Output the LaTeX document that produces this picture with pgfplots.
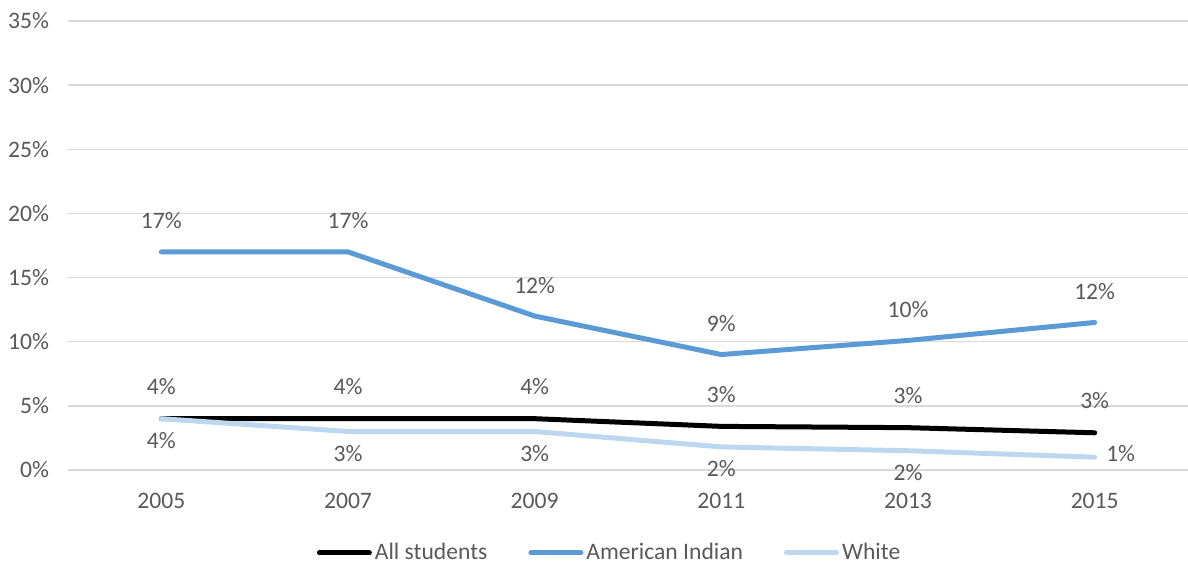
\documentclass[border=0pt]{standalone}
\usepackage{pgfplots}
\pgfplotsset{compat=1.18}
\usepackage{fontspec}
\setmainfont{Carlito}
\usetikzlibrary{calc}

\definecolor{txt}{HTML}{595959}
\definecolor{gridc}{HTML}{D9D9D9}
\definecolor{aiblue}{HTML}{5B9BD5}
\definecolor{whiteblue}{HTML}{BDD7EE}

\begin{document}
\begin{tikzpicture}
\begin{axis}[
    name=ax,
    scale only axis,
    width=560pt, height=224.5pt,
    xmin=2004, xmax=2016,
    ymin=0, ymax=35,
    xtick={2005,2007,2009,2011,2013,2015},
    ytick={0,5,...,35},
    xticklabel style={/pgf/number format/set thousands separator={}, yshift=-8pt},
    yticklabel={\pgfmathprintnumber{\tick}\%},
    yticklabel style={xshift=-6pt},
    /pgf/number format/assume math mode=true,
    ymajorgrids,
    grid style={gridc, line width=0.75pt},
    axis line style={draw=none},
    major tick length=0pt,
    tick label style={font=\fontsize{11.8}{14}\selectfont, text=txt},
    every node near coord/.append style={font=\fontsize{11.8}{14}\selectfont, text=txt, anchor=center},
    nodes near coords={\pgfmathprintnumber[fixed,precision=0]{\pgfplotspointmeta}\%},
    point meta=explicit,
    legend style={draw=none, fill=none, at={(0.484,0)}, anchor=center, yshift=-41.5pt,
        font=\fontsize{11.8}{14}\selectfont, text=txt,
        legend columns=3,
        /tikz/every even column/.append style={column sep=19pt},
        nodes={inner sep=1.5pt}},
    legend image code/.code={\draw[#1, line cap=round] (0pt,0pt) -- (25pt,0pt);},
]
% All students
\addplot[black, line width=2.5pt, line cap=round, line join=round, mark=none,
    every node near coord/.append style={yshift=16pt}]
table[meta=lab] {
x    y    lab
2005 4.0  4
2007 4.0  4
2009 4.0  4
2011 3.4  3
2013 3.3  3
2015 2.9  3
};
\addlegendentry{All students}
% American Indian
\addplot[aiblue, line width=2.5pt, line cap=round, line join=round, mark=none,
    every node near coord/.append style={yshift=15.5pt}]
table[meta=lab] {
x    y    lab
2005 17.0 17
2007 17.0 17
2009 12.0 12
2011 9.0  9
2013 10.1 10
2015 11.5 12
};
\addlegendentry{American Indian}
% White
\addplot[whiteblue, line width=2.5pt, line cap=round, line join=round, mark=none,
    nodes near coords={}]
table[meta=lab] {
x    y    lab
2005 4.0  4
2007 3.0  3
2009 3.0  3
2011 1.8  2
2013 1.5  2
2015 1.0  1
};
\addlegendentry{White}
\addplot[draw=none, forget plot, mark=none,
    every node near coord/.append style={yshift=-11pt}]
table[meta=lab] {
x    y    lab
2005 4.0  4
2007 3.0  3
2009 3.0  3
2011 1.8  2
2013 1.5  2
};
\addplot[draw=none, forget plot, mark=none,
    every node near coord/.append style={xshift=13pt, yshift=2pt}]
table[meta=lab] {
x    y    lab
2015 1.0  1
};
\end{axis}
\pgfresetboundingbox
\path ($(ax.south west)+(-34pt,-48pt)$) rectangle ($(ax.north east)+(0pt,10.5pt)$);
\end{tikzpicture}
\end{document}
